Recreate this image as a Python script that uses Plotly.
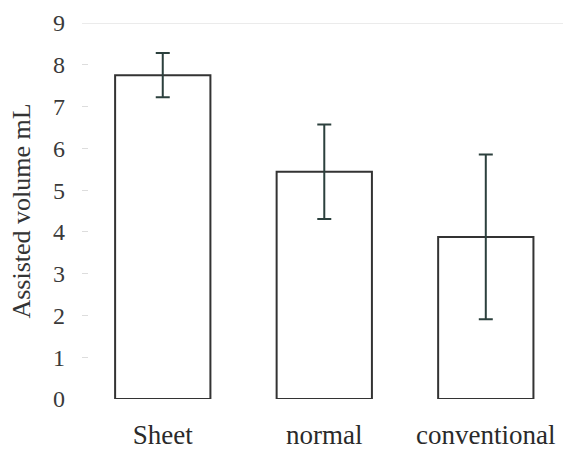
import plotly.graph_objects as go

# Data
categories = ["Sheet", "normal", "conventional"]
means = [7.75, 5.44, 3.88]
errors = [0.53, 1.13, 1.97]
y_ticks = [0, 1, 2, 3, 4, 5, 6, 7, 8, 9]

serif = "Liberation Serif"

fig = go.Figure()
fig.add_trace(go.Bar(
    x=categories,
    y=means,
    marker=dict(color="white", line=dict(color="#333333", width=2)),
    error_y=dict(type="data", array=errors, visible=True,
                 color="#2c403d", thickness=2, width=7),
    width=0.59,
))

# light reference line at the top of the value axis
fig.add_shape(type="line", xref="paper", yref="y",
              x0=0, x1=1, y0=max(y_ticks), y1=max(y_ticks),
              line=dict(color="#d8d8d8", width=1), layer="below")

fig.update_layout(
    width=563, height=452,
    margin=dict(l=82, r=0, t=23, b=53),
    paper_bgcolor="white", plot_bgcolor="white",
    showlegend=False,
    font=dict(family=serif, color="#333333"),
    xaxis=dict(
        range=[-0.5, 2.478],
        showline=False, showgrid=False, zeroline=False,
        ticks="", tickfont=dict(size=27, family=serif, color="#2a2a2a"),
        ticklabelstandoff=17,
    ),
    yaxis=dict(
        range=[0, 9],
        tickvals=y_ticks,
        showline=False, showgrid=False, zeroline=False,
        ticks="inside", ticklen=6, tickcolor="#dddddd", tickwidth=1,
        tickfont=dict(size=24, family=serif, color="#3a3a3a"),
        ticklabelstandoff=16,
        title=dict(text="Assisted volume mL",
                   font=dict(size=26, family=serif, color="#333333"),
                   standoff=14),
    ),
)

fig.write_html("out.html")
